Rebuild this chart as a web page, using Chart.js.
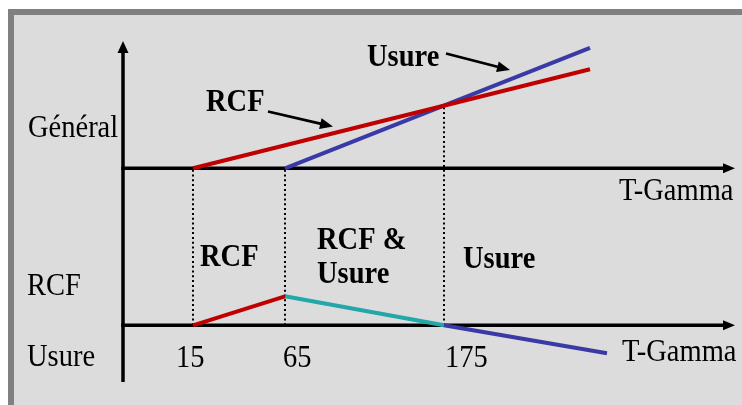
<!DOCTYPE html>
<html>
<head>
<meta charset="utf-8">
<script src="https://cdn.jsdelivr.net/npm/chart.js@4/dist/chart.umd.min.js"></script>
<style>
  html, body { margin: 0; padding: 0; background: #ffffff; }
  canvas { display: block; }
</style>
</head>
<body>
<canvas id="c" width="742" height="405"></canvas>
<script>
// ---- Data (schematic units) ----
const tickLabels = ['15', '65', '175'];
const tickX = [70, 162, 321];

// Upper panel ("Général")
const genRcfX = [70, 467];
const genRcfY = [0, 99];
const genUsureX = [162, 467];
const genUsureY = [0, 120.5];

// Lower panel (RCF above / Usure below)
const lowRcfX = [70, 162];
const lowRcfY = [0, 29];
const lowMixX = [162, 321];
const lowMixY = [29, 0];
const lowUsureX = [321, 484];
const lowUsureY = [0, -28];

// Top of the dotted separators (in the upper panel's units)
const dotTopGen = [0, 0, 63.5];

const RED = '#c00000';
const BLUE = '#3a3aa6';
const CYAN = '#22a8a8';

function pts(xs, ys) { return xs.map((x, i) => ({ x: x, y: ys[i] })); }

function lineDs(xs, ys, color, axis) {
  return {
    data: pts(xs, ys),
    borderColor: color,
    borderWidth: 4,
    borderCapStyle: 'butt',
    pointRadius: 0,
    fill: false,
    tension: 0,
    yAxisID: axis,
    clip: false
  };
}

const SERIF = '"Liberation Serif", "Times New Roman", serif';

function arrowHead(ctx, x1, y1, x2, y2, len, half) {
  const a = Math.atan2(y2 - y1, x2 - x1);
  ctx.beginPath();
  ctx.moveTo(x2, y2);
  ctx.lineTo(x2 - len * Math.cos(a) + half * Math.sin(a), y2 - len * Math.sin(a) - half * Math.cos(a));
  ctx.lineTo(x2 - len * Math.cos(a) - half * Math.sin(a), y2 - len * Math.sin(a) + half * Math.cos(a));
  ctx.closePath();
  ctx.fill();
}

function arrow(ctx, x1, y1, x2, y2, w, len, half) {
  const a = Math.atan2(y2 - y1, x2 - x1);
  ctx.beginPath();
  ctx.lineWidth = w;
  ctx.moveTo(x1, y1);
  ctx.lineTo(x2 - (len - 1) * Math.cos(a), y2 - (len - 1) * Math.sin(a));
  ctx.stroke();
  arrowHead(ctx, x1, y1, x2, y2, len, half);
}

function stretchedText(ctx, txt, x, y) {
  ctx.save();
  ctx.translate(x, y);
  ctx.scale(1, 1.07);
  ctx.fillText(txt, 0, 0);
  ctx.restore();
}

const framePlugin = {
  id: 'frame',
  beforeDraw(chart) {
    const ctx = chart.ctx;
    ctx.save();
    ctx.fillStyle = '#ffffff';
    ctx.fillRect(0, 0, chart.width, chart.height);
    ctx.fillStyle = '#808080';
    ctx.fillRect(8, 9, chart.width - 8, chart.height - 9);
    ctx.fillStyle = '#dcdcdc';
    ctx.fillRect(14, 15, chart.width - 14, chart.height - 15);
    ctx.restore();
  },
  beforeDatasetsDraw(chart) {
    const ctx = chart.ctx;
    const xs = chart.scales.x, yg = chart.scales.yGen, yl = chart.scales.yLow;
    const area = chart.chartArea;
    const x0 = xs.getPixelForValue(0);
    ctx.save();
    ctx.strokeStyle = '#000';
    ctx.fillStyle = '#000';
    ctx.lineCap = 'butt';
    // dotted separators
    ctx.setLineDash([2, 2.8]);
    ctx.lineWidth = 2;
    tickX.forEach((tx, i) => {
      const px = xs.getPixelForValue(tx);
      ctx.beginPath();
      ctx.moveTo(px, yl.getPixelForValue(0));
      ctx.lineTo(px, yg.getPixelForValue(dotTopGen[i]));
      ctx.stroke();
    });
    ctx.setLineDash([]);
    // vertical axis
    arrow(ctx, x0, area.bottom, x0, area.top, 3.5, 12, 5.5);
    // horizontal axes
    [yg.getPixelForValue(0), yl.getPixelForValue(0)].forEach(py => {
      arrow(ctx, x0 - 1.75, py, area.right, py, 3.5, 12, 5);
    });
    ctx.restore();
  },
  afterDraw(chart) {
    const ctx = chart.ctx;
    const xs = chart.scales.x;
    ctx.save();
    ctx.fillStyle = '#000';
    ctx.strokeStyle = '#000';
    ctx.textBaseline = 'alphabetic';
    ctx.textAlign = 'left';
    const reg = '28.5px ' + SERIF;
    const bold = 'bold 28.5px ' + SERIF;
    const texts = [
      [reg, 'Général', 28, 137],
      [reg, 'T-Gamma', 619, 200],
      [reg, 'RCF', 27, 295],
      [reg, 'Usure', 27, 366],
      [reg, 'T-Gamma', 622, 361],
      [bold, 'Usure', 367, 66],
      [bold, 'RCF', 206, 110.5],
      [bold, 'RCF', 200, 266],
      [bold, 'RCF &', 317, 249],
      [bold, 'Usure', 317, 283],
      [bold, 'Usure', 463, 268]
    ];
    texts.forEach(t => { ctx.font = t[0]; stretchedText(ctx, t[1], t[2], t[3]); });
    // tick labels along T-Gamma
    const tickOffset = [-17, -2, 1];
    ctx.font = reg;
    tickLabels.forEach((lab, i) => {
      stretchedText(ctx, lab, xs.getPixelForValue(tickX[i]) + tickOffset[i], 366.5);
    });
    // pointer arrows
    arrow(ctx, 446, 53.5, 510, 70, 2.8, 13, 5.5);
    arrow(ctx, 268, 111.5, 333, 126.5, 2.8, 13, 5.5);
    ctx.restore();
  }
};

new Chart(document.getElementById('c'), {
  type: 'line',
  data: {
    datasets: [
      lineDs(genRcfX, genRcfY, RED, 'yGen'),
      lineDs(genUsureX, genUsureY, BLUE, 'yGen'),
      lineDs(lowRcfX, lowRcfY, RED, 'yLow'),
      lineDs(lowMixX, lowMixY, CYAN, 'yLow'),
      lineDs(lowUsureX, lowUsureY, BLUE, 'yLow')
    ]
  },
  options: {
    responsive: false,
    devicePixelRatio: 1,
    animation: false,
    layout: { padding: { left: 123, right: 7, top: 41, bottom: 23 } },
    plugins: { legend: { display: false }, tooltip: { enabled: false } },
    scales: {
      x: { type: 'linear', min: 0, max: 612, display: false },
      yGen: { type: 'linear', min: -213.7, max: 127.3, display: false },
      yLow: { type: 'linear', min: -56.7, max: 284.3, display: false }
    }
  },
  plugins: [framePlugin]
});
</script>
</body>
</html>
